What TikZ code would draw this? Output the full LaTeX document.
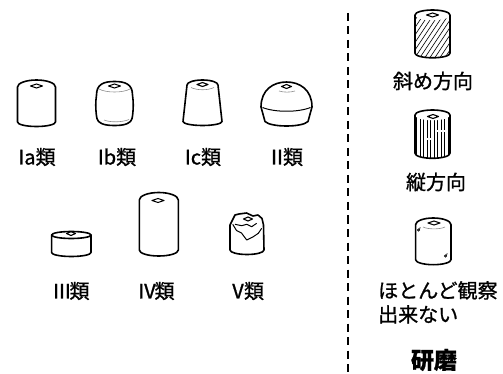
\documentclass[tikz,border=0pt]{standalone}
\usepackage{fontspec}
\setmainfont{Noto Sans CJK JP}[FakeBold=1]

% side outline of a cylinder: cx, rx, shoulder y, bottom y, top ry, bottom ry
\newcommand{\cylside}[6]{(#1-#2,#4) -- (#1-#2,#3)
  arc[start angle=180,end angle=360,x radius=#2,y radius=#5] -- (#1+#2,#4)
  arc[start angle=0,end angle=180,x radius=#2,y radius=#6] -- cycle}
% small diamond hole on the top face: cx, cy, half width
\newcommand{\cylhole}[3]{(#1-#3,#2) -- (#1,#2-2) -- (#1+#3,#2) -- (#1,#2+2) -- cycle}
% roman numeral set narrow
\newcommand{\numr}[2][12pt]{\makebox[#1][c]{#2}}

\begin{document}
\begin{tikzpicture}[
  x=1pt, y=-1pt,
  piece/.style={line width=1.6pt, line join=round, line cap=round},
  hole/.style={line width=1.1pt, line join=round},
  faint/.style={line width=0.6pt, black!45},
  crack/.style={line width=1pt, line join=round},
  hatch/.style={line width=0.6pt},
  lbl/.style={font=\fontsize{20}{24}\selectfont, inner sep=0pt},
  sep/.style={line width=2pt, dash pattern=on 8pt off 5.5pt}
]
\useasboundingbox (0,0) rectangle (503,374);

% ---------------- upper row ----------------
% Ia
\draw[piece] \cylside{36.5}{19}{87}{122}{7}{4.5};
\draw[hole] \cylhole{36.5}{86}{6};

% Ib: barrel with rounded shoulders
\draw[piece] (96.5,95) .. controls (96.5,84) and (104,81.5) .. (114.5,81.5)
  .. controls (125,81.5) and (132.5,84) .. (132.5,95)
  .. controls (133.5,102) and (133.5,108) .. (132.5,116)
  .. controls (132,124) and (124,125.5) .. (114.5,125.5)
  .. controls (105,125.5) and (97,124) .. (96.5,116)
  .. controls (95.5,108) and (95.5,102) .. (96.5,95) -- cycle;
\draw[hole] \cylhole{114.5}{86}{6};
\draw[faint] (99,89) .. controls (106,93) and (123,93) .. (130,89);
\draw[faint] (104,120) .. controls (110,122.5) and (122,122.5) .. (129,119.5);

% Ic: tapered
\draw[piece] (183,121.5) -- (187,85)
  arc[start angle=180,end angle=360,x radius=15.5,y radius=5] -- (222,121.5)
  arc[start angle=0,end angle=180,x radius=19.5,y radius=4] -- cycle;
\draw[hole] \cylhole{202.5}{84.5}{5.5};
\draw[faint] (191,87.5) .. controls (197,90.5) and (208,90.5) .. (214,87.5);

% II: dome
\draw[piece] (261,107) .. controls (261,90) and (273,82) .. (286.5,82)
  .. controls (300,82) and (312,90) .. (312,107) -- (308,121.5)
  .. controls (302,127.5) and (271,127.5) .. (265,121.5) -- cycle;
\draw[crack] (262.5,107.5) .. controls (275,112.5) and (298,112.5) .. (310.5,107.5);
\draw[hole] \cylhole{286.5}{86.5}{5};
\draw[faint] (279,91) .. controls (284,92.5) and (290,92.5) .. (295,91);

\node[lbl] (ia)  at (37,157)  {Ia類};
\node[lbl] (ib)  at (117,157) {Ib類};
\node[lbl] (ic)  at (203,157) {Ic類};
\node[lbl] (ii)  at (287,157) {\numr{Ⅱ}類};

% ---------------- lower row ----------------
% III: short
\draw[piece] \cylside{71.3}{19.7}{235}{252.5}{3.5}{4};
\draw[piece] (51.6,235) arc[start angle=180,end angle=0,x radius=19.7,y radius=3.5];
\draw[hole] \cylhole{71}{233.5}{4.5};

% IV: tall
\draw[piece] \cylside{158.8}{19.5}{200}{250}{7.5}{6};
\draw[hole] \cylhole{158}{200.5}{6};

% V: broken top
\draw[piece] (230,250) -- (230,225) -- (235,215) -- (239,214) -- (246.5,213)
  -- (253,216) -- (258,215) -- (262,218.5) -- (263.5,225) -- (264,250)
  arc[start angle=0,end angle=180,x radius=17,y radius=4.5] -- cycle;
\draw[crack] (235,224.3) -- (241.7,225.7) -- (246.7,224.3) -- (251.7,226.7) -- (256.7,223.3);
\draw[crack] (232.7,224.3) -- (236.5,230.5) -- (241.5,233) -- (246.7,240)
  -- (253.3,236.7) -- (258.3,233.3) -- (261.7,228.3);
\draw[hole] \cylhole{248}{219}{4.5};

\node[lbl] (iii) at (72,291)  {\numr[15pt]{Ⅲ}類};
\node[lbl] (iv)  at (157,291) {\numr[15pt]{Ⅳ}類};
\node[lbl] (v)   at (248,291) {\numr[12pt]{Ⅴ}類};

% ---------------- separator ----------------
\coordinate (septop) at (348,13);
\coordinate (sepbot) at (348,372);
\draw[sep] (septop) -- (sepbot);

% ---------------- polishing marks ----------------
% diagonal
\begin{scope}
  \clip \cylside{432.5}{17.5}{15}{53.3}{5}{4.5};
  \foreach \k in {372,377,...,452}
    \draw[hatch] (\k,62) -- ++(30,-45);
\end{scope}
\fill[white] (432.5,15) ellipse[x radius=17.5, y radius=5.3];
\draw[piece] \cylside{432.5}{17.5}{15}{53.3}{5}{4.5};
\draw[hole] \cylhole{432.5}{15}{6};

% vertical
\begin{scope}
  \clip \cylside{432.5}{17.5}{115}{153.3}{5}{5};
  \foreach \k in {416.5,420,...,450}
    \draw[hatch] (\k,110) -- (\k,162);
  \draw[white, line width=1.2pt] (437,131) -- (447,131);
  \draw[white, line width=1.2pt] (425,139) -- (433,139);
\end{scope}
\fill[white] (432.5,115) ellipse[x radius=17.5, y radius=5.3];
\draw[piece] \cylside{432.5}{17.5}{115}{153.3}{5}{5};
\draw[hole] \cylhole{433}{116.5}{5.5};

% hardly visible
\draw[piece] \cylside{433.3}{17.7}{224.7}{259.7}{6.7}{5};
\draw[hole] \cylhole{434}{223}{6};
\draw[faint] (423,227) .. controls (428,229.5) and (440,229.5) .. (445,227);
\draw[line width=0.6pt] (418.5,230) circle[radius=1.1] (419.6,229) -- (420.2,227.2);
\draw[line width=0.6pt] (445.5,256) circle[radius=1.1] (446.6,255) -- (447.2,253.2);

\node[lbl] (diag) at (433,81)  {斜め方向};
\node[lbl] (vert) at (436,182) {縦方向};
\node[lbl, align=left, anchor=north west] (none) at (378,281) {ほとんど観察\\出来ない};
\node[lbl, font=\fontsize{23}{26}\selectfont\bfseries] (polish) at (434,360) {研磨};

\end{tikzpicture}
\end{document}
